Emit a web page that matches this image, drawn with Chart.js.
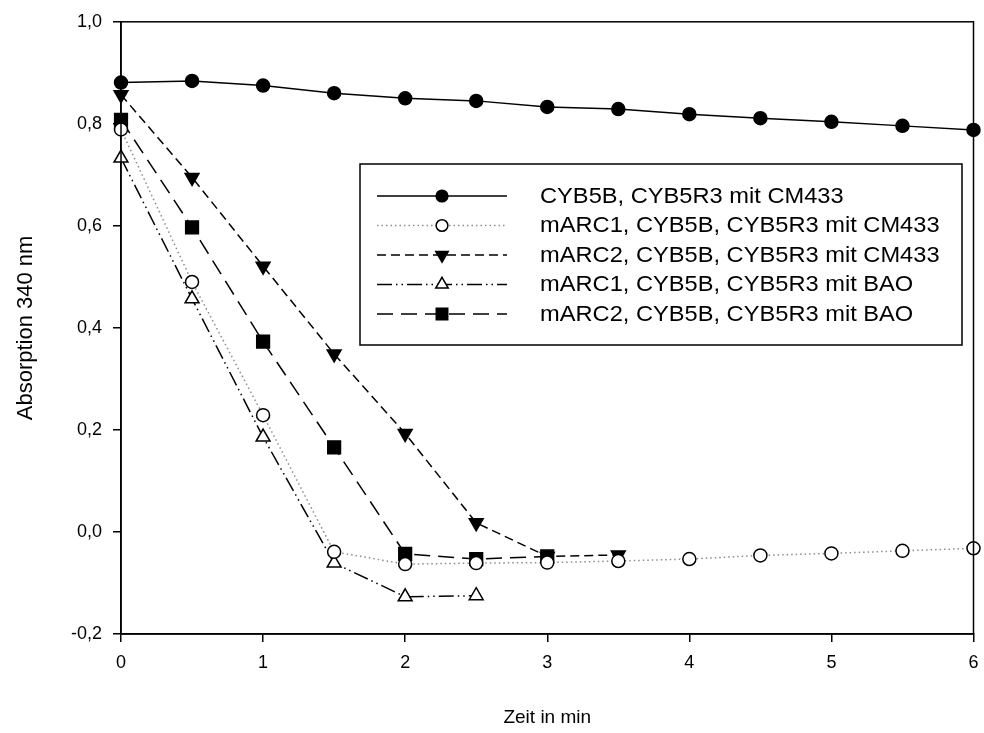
<!DOCTYPE html>
<html>
<head>
<meta charset="utf-8">
<script src="https://cdn.jsdelivr.net/npm/chart.js@4/dist/chart.umd.min.js"></script>
<style>
  html, body { margin: 0; padding: 0; background: #fff; }
  #wrap { width: 984px; height: 733px; }
</style>
</head>
<body>
<div id="wrap"><canvas id="chart" width="984" height="733"></canvas></div>
<script>
// time points (min)
const zeit = [0, 0.5, 1, 1.5, 2, 2.5, 3, 3.5, 4, 4.5, 5, 5.5, 6];

// absorption at 340 nm
const cyb5bCM433 = [0.881, 0.884, 0.875, 0.860, 0.850, 0.845, 0.833, 0.829, 0.819, 0.811, 0.804, 0.796, 0.788];
const marc1CM433 = [0.789, 0.490, 0.229, -0.039, -0.063, -0.061, -0.060, -0.057, -0.053, -0.046, -0.042, -0.037, -0.032];
const marc2CM433 = [0.857, 0.695, 0.521, 0.349, 0.193, 0.018, -0.048, -0.045];
const marc1BAO = [0.733, 0.457, 0.186, -0.061, -0.127, -0.125];
const marc2BAO = [0.808, 0.597, 0.373, 0.166, -0.043, -0.053, -0.048];

const seriesLabels = [
    'CYB5B, CYB5R3 mit CM433',
    'mARC1, CYB5B, CYB5R3 mit CM433',
    'mARC2, CYB5B, CYB5R3 mit CM433',
    'mARC1, CYB5B, CYB5R3 mit BAO',
    'mARC2, CYB5B, CYB5R3 mit BAO'
];

const FONT = 'Arial, "Liberation Sans", sans-serif';

function toPoints(values) {
    return values.map((v, i) => ({ x: zeit[i], y: v }));
}

// series styles
const styles = [
    { pointStyle: 'circle', radius: 6.5, rotation: 0, fill: '#000', line: '#000', dash: [] },
    { pointStyle: 'circle', radius: 6.5, rotation: 0, fill: '#fff', line: '#8c8c8c', dash: [1.5, 3] },
    { pointStyle: 'triangle', radius: 8, rotation: 180, fill: '#000', line: '#000', dash: [9, 5] },
    { pointStyle: 'triangle', radius: 8, rotation: 0, fill: '#fff', line: '#000', dash: [15, 4, 1.5, 4, 1.5, 4] },
    { pointStyle: 'rect', radius: 9, rotation: 0, fill: '#000', line: '#000', dash: [16, 8] }
];

const seriesData = [cyb5bCM433, marc1CM433, marc2CM433, marc1BAO, marc2BAO];

const datasets = seriesData.map((vals, i) => ({
    label: seriesLabels[i],
    data: toPoints(vals),
    showLine: true,
    borderColor: styles[i].line,
    borderWidth: 1.5,
    borderDash: styles[i].dash,
    pointStyle: styles[i].pointStyle,
    pointRotation: styles[i].rotation,
    pointRadius: styles[i].radius,
    pointBackgroundColor: styles[i].fill,
    pointBorderColor: '#000',
    pointBorderWidth: 1.5,
    clip: false,
    order: i
}));

// frame around the plot area
const framePlugin = {
    id: 'frame',
    afterDraw(chart) {
        const { ctx, chartArea: a } = chart;
        ctx.save();
        ctx.strokeStyle = '#000';
        ctx.lineWidth = 1.5;
        ctx.strokeRect(a.left, a.top, a.right - a.left, a.bottom - a.top);
        ctx.restore();
    }
};

// boxed legend like the original
const boxLegend = {
    id: 'boxLegend',
    afterDraw(chart) {
        const ctx = chart.ctx;
        const bx = 360, by = 164, bw = 602, bh = 181;
        ctx.save();
        ctx.fillStyle = '#fff';
        ctx.fillRect(bx, by, bw, bh);
        ctx.strokeStyle = '#000';
        ctx.lineWidth = 1.5;
        ctx.strokeRect(bx, by, bw, bh);
        seriesLabels.forEach((label, i) => {
            const y = by + 32 + i * 29.5;
            const s = styles[i];
            ctx.beginPath();
            ctx.setLineDash(s.dash);
            ctx.strokeStyle = s.line;
            ctx.lineWidth = 1.5;
            ctx.moveTo(377, y);
            ctx.lineTo(507, y);
            ctx.stroke();
            ctx.setLineDash([]);
            ctx.fillStyle = s.fill;
            ctx.strokeStyle = '#000';
            ctx.lineWidth = 1.5;
            Chart.helpers.drawPoint(ctx, {
                pointStyle: s.pointStyle,
                rotation: s.rotation,
                radius: s.radius * 0.9,
                borderWidth: 1.5
            }, 442, y);
            // text is a bit wider than plain Arial in the original
            ctx.save();
            ctx.translate(540, y + 1);
            ctx.scale(1.1, 1);
            ctx.fillStyle = '#000';
            ctx.font = '21.5px ' + FONT;
            ctx.textBaseline = 'middle';
            ctx.textAlign = 'left';
            ctx.fillText(label, 0, 0);
            ctx.restore();
        });
        ctx.restore();
    }
};

new Chart(document.getElementById('chart'), {
    type: 'scatter',
    data: { datasets: datasets },
    options: {
        responsive: false,
        animation: false,
        layout: { padding: { top: 20, right: 6, left: 0, bottom: 0 } },
        plugins: {
            legend: { display: false },
            tooltip: { enabled: false }
        },
        scales: {
            x: {
                type: 'linear',
                min: 0,
                max: 6,
                ticks: {
                    stepSize: 1,
                    color: '#000',
                    padding: 10,
                    font: { family: FONT, size: 18 }
                },
                grid: { drawOnChartArea: false, drawTicks: true, tickLength: 8, color: '#000', lineWidth: 1.5 },
                border: { display: true, color: '#000', width: 1.5 },
                title: {
                    display: true,
                    text: 'Zeit in min',
                    color: '#000',
                    font: { family: FONT, size: 19 },
                    padding: { top: 20 }
                },
                afterFit(scale) {
                    scale.height = 99;
                    scale.paddingLeft = 0;
                    scale.paddingRight = 0;
                }
            },
            y: {
                min: -0.2,
                max: 1.0,
                ticks: {
                    stepSize: 0.2,
                    color: '#000',
                    padding: 11,
                    font: { family: FONT, size: 18 },
                    callback: (v) => (Math.abs(v) < 1e-9 ? 0 : v).toFixed(1).replace('.', ',')
                },
                grid: { drawOnChartArea: false, drawTicks: true, tickLength: 8, color: '#000', lineWidth: 1.5 },
                border: { display: true, color: '#000', width: 1.5 },
                title: {
                    display: true,
                    text: 'Absorption 340 nm',
                    color: '#000',
                    font: { family: FONT, size: 22 },
                    padding: { top: 13 }
                },
                afterFit(scale) { scale.width = 121; }
            }
        }
    },
    plugins: [framePlugin, boxLegend]
});
</script>
</body>
</html>
